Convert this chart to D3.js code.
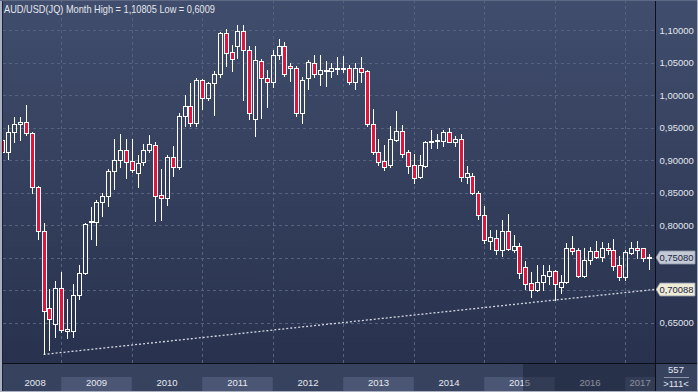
<!DOCTYPE html>
<html><head><meta charset="utf-8">
<script src="https://cdn.jsdelivr.net/npm/d3@7"></script>
<style>
html,body{margin:0;padding:0;background:#2e3854;}
svg{display:block;font-family:"Liberation Sans",Arial,sans-serif;}
</style>
</head><body>
<svg id="chart" width="698" height="392"></svg>
<script>
// ---------------- DATA ----------------
const titleText = "AUD/USD(JQ) Month High = 1,10805 Low = 0,6009";
const fmtKey = d3.timeFormat("%Y-%m");
const monthKeys = d3.timeMonths(new Date(2008, 2, 1), new Date(2017, 5, 1)).map(fmtKey); // 2008-03 .. 2017-05

const openV = [
 0.931,0.913,0.943,0.955,0.958,0.941,0.858,0.791,0.672,0.647,
 0.703,0.637,0.637,0.692,0.726,0.804,0.805,0.836,0.844,0.883,0.900,0.915,
 0.898,0.880,0.897,0.915,0.923,0.846,0.841,0.905,0.890,0.967,0.983,0.957,
 1.023,0.996,1.018,1.032,1.095,1.066,1.075,1.098,1.069,0.963,1.053,1.026,
 1.020,1.062,1.075,1.045,1.041,0.973,1.026,1.050,1.032,1.037,1.037,1.040,
 1.040,1.042,1.020,1.041,1.037,0.956,0.912,0.898,0.892,0.931,0.945,0.912,
 0.892,0.874,0.891,0.927,0.929,0.930,0.943,0.928,0.932,0.874,0.875,0.849,
 0.816,0.776,0.780,0.761,0.791,0.761,0.767,0.735,0.711,0.700,0.713,0.722,
 0.729,0.705,0.713,0.765,0.762,0.722,0.746,0.760,0.751,0.765,0.762,0.738,
 0.720,0.757,0.765,0.764,0.749
];
const highV = [
 0.945,0.954,0.966,0.966,0.985,0.943,0.860,0.803,0.702,0.714,
 0.727,0.686,0.709,0.738,0.803,0.827,0.838,0.850,0.886,0.932,0.940,0.932,
 0.932,0.908,0.925,0.938,0.927,0.886,0.908,0.922,0.973,1.000,1.018,1.026,
 1.025,1.020,1.037,1.097,1.101,1.077,1.10805,1.107,1.075,1.076,1.056,1.038,
 1.069,1.086,1.081,1.049,1.044,1.027,1.054,1.062,1.062,1.053,1.050,1.059,
 1.060,1.046,1.050,1.059,1.038,0.978,0.932,0.923,0.952,0.975,0.954,0.916,
 0.909,0.908,0.930,0.946,0.940,0.946,0.950,0.937,0.940,0.891,0.880,0.853,
 0.829,0.792,0.793,0.808,0.817,0.785,0.772,0.745,0.727,0.738,0.738,0.738,
 0.731,0.723,0.772,0.783,0.765,0.764,0.766,0.776,0.774,0.772,0.778,0.752,
 0.762,0.774,0.776,0.765,0.755
];
const lowV = [
 0.905,0.902,0.927,0.931,0.939,0.849,0.779,0.6009,0.607,0.628,
 0.635,0.626,0.628,0.686,0.724,0.778,0.769,0.814,0.829,0.856,0.890,0.873,
 0.882,0.858,0.892,0.913,0.806,0.808,0.831,0.875,0.886,0.952,0.952,0.952,
 0.978,0.992,0.969,1.028,1.044,1.037,1.057,0.992,0.963,0.937,0.965,0.982,
 1.013,1.056,1.029,1.022,0.967,0.957,1.009,1.028,1.016,1.014,1.028,1.032,
 1.036,1.017,1.010,1.020,0.952,0.910,0.892,0.884,0.890,0.929,0.905,0.880,
 0.865,0.872,0.890,0.919,0.919,0.922,0.927,0.922,0.867,0.864,0.847,0.809,
 0.772,0.763,0.756,0.753,0.761,0.758,0.718,0.702,0.690,0.698,0.700,0.709,
 0.684,0.696,0.711,0.756,0.720,0.720,0.740,0.749,0.744,0.756,0.731,0.715,
 0.716,0.755,0.749,0.744,0.733
];
const closeV = [
 0.913,0.943,0.955,0.958,0.941,0.858,0.791,0.667,0.655,0.703,
 0.638,0.640,0.692,0.726,0.802,0.806,0.835,0.844,0.883,0.900,0.915,0.897,
 0.884,0.895,0.916,0.925,0.845,0.841,0.905,0.890,0.967,0.983,0.957,1.023,
 0.996,1.019,1.032,1.096,1.065,1.055,1.098,1.069,0.972,1.054,1.026,1.020,
 1.062,1.075,1.033,1.041,0.973,1.023,1.051,1.032,1.038,1.038,1.041,1.041,
 1.042,1.020,1.041,1.036,0.956,0.913,0.897,0.890,0.932,0.945,0.910,0.891,
 0.873,0.892,0.927,0.929,0.931,0.943,0.928,0.933,0.874,0.880,0.850,0.816,
 0.777,0.781,0.761,0.791,0.763,0.767,0.726,0.710,0.700,0.713,0.723,0.729,
 0.709,0.713,0.765,0.760,0.722,0.746,0.760,0.751,0.765,0.761,0.737,0.720,
 0.758,0.765,0.762,0.749,0.7508
];
const yTicks = [0.65, 0.70, 0.75, 0.80, 0.85, 0.90, 0.95, 1.00, 1.05, 1.10];
const yearLabels = ["2008","2009","2010","2011","2012","2013","2014","2015","2016","2017"];
const lastPrice = 0.75080;
const trendFrom = { month: "2008-10", value: 0.6009 };
const trendTo   = { month: "2016-01", value: 0.6845 };
const trendLabel = 0.70088;
const footerTop = "557";
const footerBottom = ">111<";

// ---------------- LAYOUT ----------------
const W = 698, H = 392;
const plotL = 3, plotR = 655, plotT = 0, plotB = 363;
const svg = d3.select("#chart");
const defs = svg.append("defs");

const bg = defs.append("linearGradient").attr("id","bg").attr("x1",0).attr("x2",0).attr("y1",0).attr("y2",1);
bg.append("stop").attr("offset","0%").attr("stop-color","#404d6c");
bg.append("stop").attr("offset","100%").attr("stop-color","#28324e");
defs.append("clipPath").attr("id","plotclip").append("rect")
  .attr("x",plotL).attr("y",plotT).attr("width",plotR-plotL).attr("height",plotB-plotT);

svg.append("rect").attr("x",0).attr("y",0).attr("width",W).attr("height",plotB).attr("fill","url(#bg)");

// scales
const step = 5.875;
const x = d3.scaleBand().domain(monthKeys).range([-0.44, -0.44 + step*monthKeys.length]).padding(0);
const cx = k => x(k) + x.bandwidth()/2;
const y = d3.scaleLinear().domain([0.65, 1.10]).range([322.5, 30]);
const px = v => Math.round(v) + 0.5;
const fmtPrice = v => d3.format(".5f")(v).replace(".", ",");

const plot = svg.append("g").attr("clip-path","url(#plotclip)");
const gridColor = "#56637f";

// horizontal grid
plot.selectAll("line.hg").data(yTicks).join("line")
  .attr("x1",plotL).attr("x2",plotR)
  .attr("y1",d=>px(y(d))).attr("y2",d=>px(y(d)))
  .attr("stroke",gridColor).attr("stroke-dasharray","3,3").attr("stroke-width",1);

// vertical grid at January
const janKeys = monthKeys.filter(k => k.endsWith("-01"));
plot.selectAll("line.vg").data(janKeys).join("line")
  .attr("x1",d=>px(cx(d))).attr("x2",d=>px(cx(d)))
  .attr("y1",plotT).attr("y2",plotB)
  .attr("stroke",gridColor).attr("stroke-dasharray","3,3").attr("stroke-width",1);

// trend line
const tx1 = cx(trendFrom.month), ty1 = y(trendFrom.value);
const tx2 = cx(trendTo.month), ty2 = y(trendTo.value);
const slope = (ty2 - ty1) / (tx2 - tx1);
plot.append("line")
  .attr("x1",tx1).attr("y1",ty1)
  .attr("x2",plotR).attr("y2",ty1 + slope*(plotR - tx1))
  .attr("stroke","#d4d8e2").attr("stroke-width",1.3).attr("stroke-dasharray","2,2");

// candles
const candles = monthKeys.map((k,i)=>({k, o:openV[i], h:highV[i], l:lowV[i], c:closeV[i]}));
const cg = plot.append("g");
candles.forEach(d=>{
  const xc = Math.round(cx(d.k));
  const top = Math.round(y(Math.max(d.o,d.c))) + 0.5;
  let bot = Math.round(y(Math.min(d.o,d.c))) + 0.5;
  if (bot - top < 1) bot = top + 1;
  const yh = Math.round(y(d.h)), yl = Math.round(y(d.l));
  const wx = xc + 0.5;
  if (yh < top) cg.append("line").attr("x1",wx).attr("x2",wx).attr("y1",yh).attr("y2",top).attr("stroke","#ffffff").attr("stroke-width",1);
  if (yl > bot) cg.append("line").attr("x1",wx).attr("x2",wx).attr("y1",bot).attr("y2",yl+1).attr("stroke","#ffffff").attr("stroke-width",1);
  const up = d.c >= d.o;
  cg.append("rect").attr("x",xc-1.5).attr("y",top).attr("width",4).attr("height",bot-top)
    .attr("fill", up ? "none" : "#e2143c").attr("stroke","#ffffff").attr("stroke-width",1);
});

// title
svg.append("text").attr("x",4).attr("y",13).attr("fill","#e4e7ee").attr("font-size",11)
  .attr("textLength",211).attr("lengthAdjust","spacingAndGlyphs").text(titleText);

// right axis panel (labels hidden under the price tags are not drawn)
const tagValues = [lastPrice, trendLabel];
const shownTicks = yTicks.filter(t => tagValues.every(v => Math.abs(y(t) - y(v)) > 9));
const ax = svg.append("g").attr("transform",`translate(${plotR},0)`)
  .call(d3.axisRight(y).tickValues(shownTicks).tickSize(0).tickPadding(4.5).tickFormat(fmtPrice));
ax.select(".domain").remove();
ax.selectAll("text").attr("fill","#e2e6ef").attr("font-size",9.5)
  .attr("font-family","'Liberation Sans',Arial,sans-serif");

// price tags
function tag(v, fill){
  const yc = Math.round(y(v)) + 0.5;
  const g = svg.append("g");
  g.append("path")
   .attr("d",`M${plotR+1},${yc} L${plotR+5},${yc-6.5} L${W-3},${yc-6.5} L${W-3},${yc+6.5} L${plotR+5},${yc+6.5} Z`)
   .attr("fill",fill).attr("stroke","#8f97a8").attr("stroke-width",0.8);
  g.append("text").attr("x",plotR+4.5).attr("y",yc).attr("dy","0.35em")
   .attr("fill","#1c2440").attr("font-size",9.5).attr("textLength",34).attr("lengthAdjust","spacingAndGlyphs")
   .text(fmtPrice(v));
}
tag(lastPrice, "#c3c9d5");
tag(trendLabel, "#eeecd6");

// bottom strip
svg.append("rect").attr("x",0).attr("y",plotB).attr("width",W).attr("height",H-plotB).attr("fill","#37425f");
const years = yearLabels.map((lab,j)=>{
  const jan = lab + "-01";
  const nextJan = (+lab + 1) + "-01";
  const s = monthKeys.includes(jan) ? cx(jan) : cx(nextJan) - 12*step;
  const e = monthKeys.includes(nextJan) ? cx(nextJan) : s + 12*step;
  const vs = Math.max(s, plotL), ve = Math.min(e, plotR);
  return {lab, j, vs, ve};
});
svg.selectAll("rect.band").data(years.filter(d=>d.j%2===1)).join("rect")
  .attr("x",d=>d.vs).attr("y",377).attr("width",d=>d.ve-d.vs).attr("height",H-377)
  .attr("fill","#4a5674");
svg.selectAll("text.year").data(years).join("text")
  .attr("x",d=>(d.vs+d.ve)/2 + (d.j===0?3:0)).attr("y",386)
  .attr("text-anchor","middle").attr("fill","#e6e9f0").attr("font-size",9.5).text(d=>d.lab);
// navigator overlay
svg.append("rect").attr("x",523).attr("y",plotB+1).attr("width",plotR-523).attr("height",H-plotB-2)
  .attr("fill","#161c30").attr("opacity",0.45);

// footer counts
svg.append("text").attr("x",676).attr("y",373).attr("text-anchor","middle").attr("fill","#e2e6ef").attr("font-size",9.5).text(footerTop);
svg.append("line").attr("x1",664).attr("x2",689).attr("y1",377.5).attr("y2",377.5).attr("stroke","#8c95aa");
svg.append("text").attr("x",676).attr("y",387).attr("text-anchor","middle").attr("fill","#e2e6ef").attr("font-size",9.5).text(footerBottom);

// frame lines
svg.append("line").attr("x1",0).attr("x2",W).attr("y1",plotB+0.5).attr("y2",plotB+0.5).attr("stroke","#0c0f18");
svg.append("line").attr("x1",plotR+0.5).attr("x2",plotR+0.5).attr("y1",0).attr("y2",H).attr("stroke","#0c0f18");
svg.append("rect").attr("x",0).attr("y",0).attr("width",2).attr("height",H).attr("fill","#a8b0c2");
svg.append("line").attr("x1",2.5).attr("x2",2.5).attr("y1",0).attr("y2",H).attr("stroke","#1a2035");
svg.append("line").attr("x1",0).attr("x2",W).attr("y1",H-0.5).attr("y2",H-0.5).attr("stroke","#a8b0c2");
svg.append("line").attr("x1",0).attr("x2",W).attr("y1",0.5).attr("y2",0.5).attr("stroke","#5d6884");
svg.append("line").attr("x1",W-0.5).attr("x2",W-0.5).attr("y1",0).attr("y2",H).attr("stroke","#a8b0c2");
</script>
</body></html>
